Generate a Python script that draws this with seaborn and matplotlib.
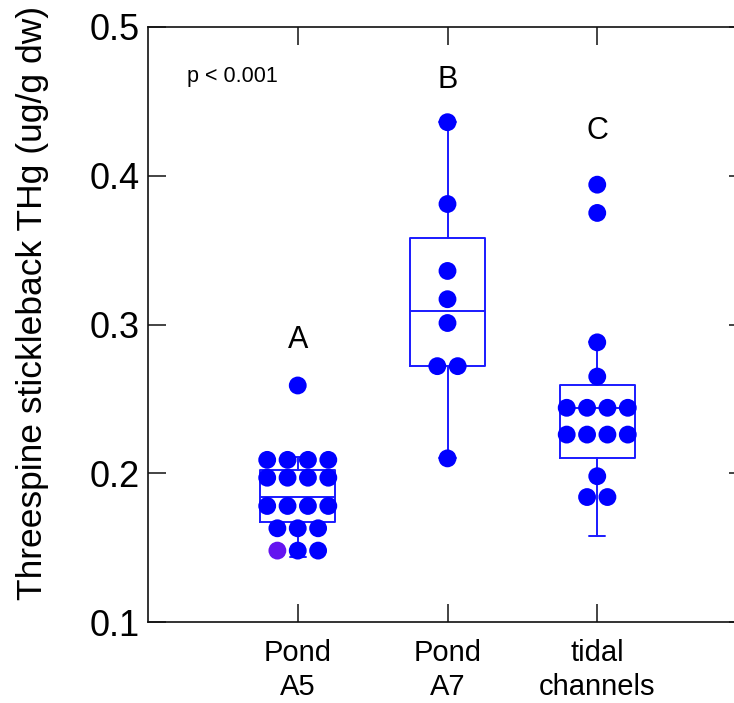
import numpy as np
import pandas as pd
import matplotlib
matplotlib.use("Agg")
import matplotlib.pyplot as plt
import seaborn as sns

sns.set_style("white")
plt.rcParams["font.family"] = ["Liberation Sans", "DejaVu Sans"]
plt.rcParams["text.color"] = "black"
plt.rcParams["xtick.color"] = "black"
plt.rcParams["ytick.color"] = "black"

# ---- data ----
categories = ["Pond\nA5", "Pond\nA7", "tidal\nchannels"]
pond_a5 = [0.259,
           0.209, 0.209, 0.209, 0.209,
           0.197, 0.197, 0.197, 0.197,
           0.178, 0.178, 0.178, 0.178,
           0.163, 0.163, 0.163,
           0.148, 0.148, 0.148]
pond_a7 = [0.436, 0.381, 0.336, 0.317, 0.301, 0.272, 0.272, 0.210]
tidal = [0.394, 0.375, 0.288, 0.265,
         0.244, 0.244, 0.244, 0.244,
         0.226, 0.226, 0.226, 0.226,
         0.198, 0.184, 0.184]

# box statistics (SigmaPlot style box plot)
box_q1 = [0.167, 0.272, 0.210]
box_med = [0.184, 0.309, 0.244]
box_q3 = [0.202, 0.358, 0.259]
whisk_lo = [0.144, 0.210, 0.158]
whisk_hi = [0.211, 0.436, 0.288]

group_letters = ["A", "B", "C"]
letter_y = [0.2896, 0.4647, 0.430]
p_text = "p < 0.001"
highlight = ("Pond\nA5", 0.148)  # purple dot (leftmost of its row)

yticks = [0.1, 0.2, 0.3, 0.4, 0.5]
ylabel = "Threespine stickleback THg (ug/g dw)"

# ---- build long table and dot-density layout ----
values = [pond_a5, pond_a7, tidal]
rows = []
dot_step = 0.136
for ci, (cat, vals) in enumerate(zip(categories, values)):
    uniq = sorted(set(vals), reverse=True)
    for u in uniq:
        k = vals.count(u)
        offs = (np.arange(k) - (k - 1) / 2) * dot_step
        for j, o in enumerate(offs):
            col = "normal"
            if cat == highlight[0] and u == highlight[1] and j == 0:
                col = "highlight"
            rows.append({"category": cat, "pos": ci + o, "value": u, "kind": col})
df = pd.DataFrame(rows)

W, H = 734, 703
fig = plt.figure(figsize=(W / 100, H / 100), dpi=100)
ax = fig.add_axes([148 / W, 81 / H, 599 / W, 595 / H])

# boxes
blue = "#1a1aff"
stats = []
for i in range(3):
    stats.append({"q1": box_q1[i], "med": box_med[i], "q3": box_q3[i],
                  "whislo": whisk_lo[i], "whishi": whisk_hi[i], "fliers": []})
lp = dict(color=blue, linewidth=1.4)
ax.bxp(stats, positions=range(3), widths=0.5, capwidths=0.107,
       boxprops=lp, whiskerprops=lp, capprops=lp, medianprops=lp,
       showfliers=False, manage_ticks=False, zorder=2)

# dots
sns.scatterplot(data=df, x="pos", y="value", hue="kind",
                palette={"normal": "#0000ff", "highlight": "#6414f0"},
                s=165, linewidth=0, legend=False, ax=ax, zorder=3)

# annotations
for i, (lt, ly) in enumerate(zip(group_letters, letter_y)):
    ax.text(i, ly, lt, ha="center", va="center", fontsize=22, color="black")
ax.text(0.065, 0.917, p_text, transform=ax.transAxes,
        ha="left", va="center", fontsize=15.5, color="black")

ax.set_xlim(-1, 3)
ax.set_ylim(0.1, 0.5)
ax.set_xticks(range(3))
ax.set_xticklabels(categories, fontsize=21, linespacing=1.3)
ax.set_yticks(yticks)
ax.set_yticklabels([f"{t:.1f}" for t in yticks], fontsize=26)
ax.set_xlabel("")
ax.set_ylabel("")
for sp in ax.spines.values():
    sp.set_visible(True)
    sp.set_color("#111111")
    sp.set_linewidth(1.2)
ax.tick_params(direction="in", length=13, width=1.1, color="#111111",
               labelcolor="black",
               top=True, right=True, bottom=True, left=True)
ax.tick_params(axis="y", pad=6)
ax.tick_params(axis="x", pad=12)

fig.text(33 / W, 1 - 303 / H, ylabel, rotation=90, ha="center", va="center",
         fontsize=25.5, color="black")

fig.savefig("out.png", dpi=100, facecolor="white")
